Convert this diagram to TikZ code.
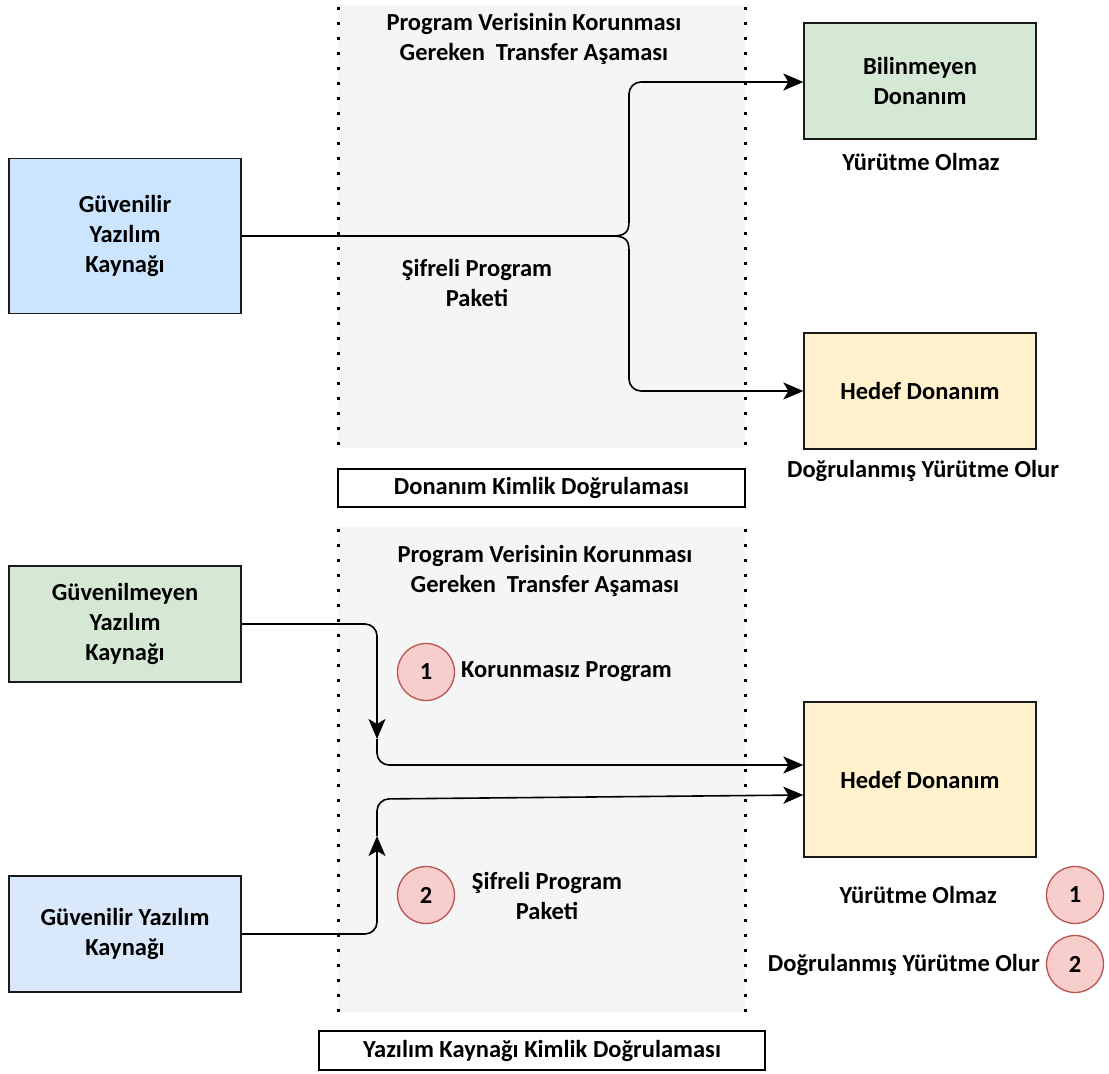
\documentclass[tikz,border=0pt]{standalone}
\usepackage{fontspec}
\setmainfont{Carlito}
\usetikzlibrary{arrows.meta}
\definecolor{bandgray}{HTML}{F5F5F5}
\definecolor{bluefill}{HTML}{CCE5FF}
\definecolor{bluefilltwo}{HTML}{DAE8FC}
\definecolor{greenfill}{HTML}{D5E8D4}
\definecolor{yellowfill}{HTML}{FFF2CC}
\definecolor{redfill}{HTML}{F8CECC}
\definecolor{redline}{HTML}{B85450}
\definecolor{boxline}{HTML}{1A1A1A}
\begin{document}
\begin{tikzpicture}[x=1pt,y=-1pt,
  txt/.style={font=\bfseries\fontsize{24.5}{30}\selectfont, align=center, inner sep=0pt},
  card/.style={draw=boxline, line width=1.3pt, minimum width=232pt, inner sep=0pt, txt},
  band/.style={fill=bandgray, draw=none},
  dotline/.style={line width=3pt, dash pattern=on 3pt off 12pt},
  caption/.style={draw=black, line width=1.3pt, fill=white, inner sep=0pt, txt},
  badge/.style={circle, draw=redline, fill=redfill, line width=1.3pt, minimum size=57pt, inner sep=0pt, txt},
  conn/.style={line width=1.6pt, rounded corners=12pt},
  tip/.style={-{Stealth[length=20pt,width=17pt,inset=5pt]}}
]
\useasboundingbox (0,0) rectangle (1109,1074);

% transfer bands
\fill[band] (338,5) rectangle (745,448);
\fill[band] (338,527) rectangle (745,1012);
\draw[dotline] (338,7) -- (338,448);
\draw[dotline] (745,7) -- (745,448);
\draw[dotline] (338,529) -- (338,1012);
\draw[dotline] (745,529) -- (745,1012);

\node[txt] (title1) at (534,39) {Program Verisinin Korunması\\Gereken\ \ Transfer Aşaması};
\node[txt] (title2) at (545,571) {Program Verisinin Korunması\\Gereken\ \ Transfer Aşaması};

\node[caption, minimum width=407pt, minimum height=38pt] (cap1) at (541.5,488) {Donanım Kimlik Doğrulaması};
\node[caption, minimum width=446pt, minimum height=39pt] (cap2) at (542,1050.5) {Yazılım Kaynağı Kimlik Doğrulaması};

% hardware authentication
\node[card, fill=bluefill, minimum height=155pt] (src1) at (125,236) {Güvenilir\\Yazılım\\Kaynağı};
\node[card, fill=greenfill, minimum height=116pt] (unk) at (920,81) {Bilinmeyen\\Donanım};
\node[txt] (unklbl) at (921,162) {Yürütme Olmaz};
\node[card, fill=yellowfill, minimum height=116pt] (tgt1) at (920,391) {Hedef Donanım};
\node[txt] (tgtlbl) at (923,471) {Doğrulanmış Yürütme Olur};
\node[txt] (pkg1) at (477,283) {Şifreli Program\\Paketi};

% fork into the two hardware paths
\coordinate (fork) at (612,236);
\draw[line width=1.6pt] (src1.east) -- (fork);
\draw[line width=1.6pt] (fork) .. controls (624,236) and (629,233) .. (629,222);
\draw[line width=1.6pt] (fork) .. controls (624,236) and (629,239) .. (629,250);
\draw[conn, tip] (629,222) -- (629,82) -- (unk.west |- 0,82);
\draw[conn, tip] (629,250) -- (629,391) -- (tgt1.west |- 0,391);

% software source authentication
\node[card, fill=greenfill, minimum height=116pt] (src2) at (125,624) {Güvenilmeyen\\Yazılım\\Kaynağı};
\node[card, fill=bluefilltwo, minimum height=116pt] (src3) at (125,934) {Güvenilir Yazılım\\Kaynağı};
\node[card, fill=yellowfill, minimum height=155pt] (tgt2) at (920,779.5) {Hedef Donanım};

\node[badge] (b1) at (426,672) {1};
\node[txt, anchor=west] (unprot) at (461,672) {Korunmasız Program};
\node[badge] (b2) at (426,895) {2};
\node[txt] (pkg2) at (547,895.5) {Şifreli Program\\Paketi};

\node[txt, anchor=east] (leg1) at (997,895) {Yürütme Olmaz};
\node[badge] (b3) at (1075,895) {1};
\node[txt, anchor=east] (leg2) at (1040,965) {Doğrulanmış Yürütme Olur};
\node[badge] (b4) at (1075,964) {2};

\coordinate (m1) at (377,739);
\coordinate (m2) at (377,836);
\draw[conn, tip] (src2.east) -- (377,624) -- (m1);
\draw[conn, tip] (m1) -- (377,765) -- (tgt2.west |- 0,765);
\draw[conn, tip] (src3.east) -- (377,934) -- (m2);
\draw[conn, tip] (m2) -- (377,799) -- (tgt2.west |- 0,795);
\end{tikzpicture}
\end{document}
